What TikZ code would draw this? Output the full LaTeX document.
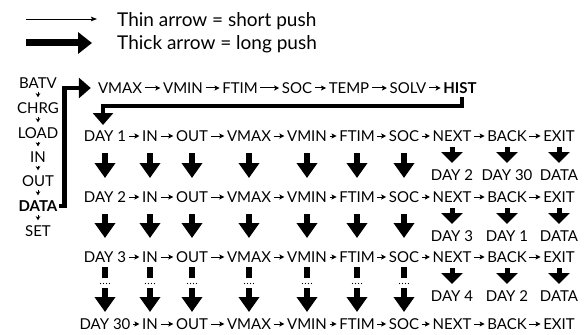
\documentclass[tikz,border=0pt]{standalone}
\usepackage{fontspec}
\setmainfont{Lato}
\usetikzlibrary{arrows.meta,calc}
\begin{document}
\begin{tikzpicture}[x=1pt,y=-1pt,
  lbl/.style={font=\fontsize{15}{17}\selectfont, inner xsep=1pt, inner ysep=1pt},
  leg/.style={font=\fontsize{19}{22}\selectfont, inner sep=0pt},
  rowarrow/.style={line width=1pt, -{Stealth[length=5pt,width=5pt,inset=1pt]}, shorten <=1.5pt, shorten >=1.5pt},
  colarrow/.style={line width=0.9pt, -{Stealth[length=4pt,width=4.5pt,inset=1pt]}, shorten <=2pt, shorten >=4pt},
  bigarrow/.style={line width=6pt, -{Triangle[length=15pt,width=20pt]}},
  midarrow/.style={line width=5pt, -{Triangle[length=11pt,width=21pt]}},
  bracket/.style={line width=4.5pt, line join=miter, -{Triangle[length=12pt,width=20pt]}},
  legthin/.style={line width=0.8pt, -{Stealth[length=6pt,width=4.5pt,inset=1pt]}},
  legthick/.style={line width=7pt, -{Triangle[length=14pt,width=21pt]}},
  bar/.style={line width=5.5pt}
]
\useasboundingbox (0,0) rectangle (585,334);

% legend
\coordinate (ls1) at (26,19);
\coordinate (le1) at (97,19);
\draw[legthin] (ls1) -- (le1);
\node[leg, anchor=base west] (leg1) at (117,26.5) {Thin arrow = short push};
\coordinate (ls2) at (26,43);
\coordinate (le2) at (92,43);
\draw[legthick] (ls2) -- (le2);
\node[leg, anchor=base west] (leg2) at (117,50) {Thick arrow = long push};

% left menu column
\foreach \k/\y/\t in {1/83/BATV,2/108/CHRG,3/133/LOAD,4/157/IN,5/181/OUT,6/206/\textbf{DATA},7/231/SET}
  \node[lbl] (L\k) at (38,\y) {\t};
\foreach \k [evaluate=\k as \n using int(\k+1)] in {1,...,6}
  \draw[colarrow] (L\k) -- (L\n);

% top row
\foreach \k/\x/\t in {1/120/VMAX,2/183/VMIN,3/240/FTIM,4/297/SOC,5/349/TEMP,6/408/SOLV,7/460/\textbf{HIST}}
  \node[lbl] (T\k) at (\x,88) {\t};
\foreach \k [evaluate=\k as \n using int(\k+1)] in {1,...,6}
  \draw[rowarrow] (T\k) -- (T\n);

% DATA bracket
\draw[bracket, shorten >=6pt] (L6.east) -- ++(6,0) |- (T1.west);

% day rows
\foreach \ro/\y/\d in {1/136/1,2/197/2,3/257/3,4/324/30} {
  \node[lbl] (r\ro c1) at (105,\y) {DAY \d};
  \foreach \co/\x/\t in {2/150/IN,3/192/OUT,4/249/VMAX,5/307/VMIN,6/357/FTIM,7/404/SOC,8/452/NEXT,9/507/BACK,10/559/EXIT}
    \node[lbl] (r\ro c\co) at (\x,\y) {\t};
  \foreach \co [evaluate=\co as \n using int(\co+1)] in {1,...,9}
    \draw[rowarrow] (r\ro c\co) -- (r\ro c\n);
}

% HIST bracket
\draw[bracket] ($(T7.center)+(2,9)$) -- ++(0,9) -| ($(r1c1.center)+(-2,-11)$);

% long pushes between rows
\foreach \ro/\nx in {1/2,2/3}
  \foreach \co in {1,...,7}
    \draw[bigarrow, shorten <=17pt, shorten >=19pt] (r\ro c\co.center) -- (r\nx c\co.center);

% broken arrows from DAY 3 row to DAY 30 row
\foreach \co in {1,...,7} {
  \draw[bar] ($(r3c\co.center)+(0,10)$) -- ($(r3c\co.center)+(0,21)$);
  \foreach \dx in {-4.5,-1.5,1.5,4.5}
    \fill ($(r3c\co.center)+(\dx,26.5)$) circle (0.7pt);
  \draw[bigarrow, shorten >=12pt] ($(r3c\co.center)+(0,31)$) -- (r4c\co.center);
}

% NEXT / BACK / EXIT targets
\foreach \ro/\y/\a/\b in {1/175/DAY 2/DAY 30,2/236/DAY 3/DAY 1,3/296/DAY 4/DAY 2} {
  \node[lbl] (t\ro c8) at (452,\y) {\a};
  \node[lbl] (t\ro c9) at (507,\y) {\b};
  \node[lbl] (t\ro c10) at (559,\y) {DATA};
  \foreach \co in {8,9,10}
    \draw[midarrow, shorten <=11pt, shorten >=12pt] (r\ro c\co.center) -- (t\ro c\co.center);
}
\end{tikzpicture}
\end{document}
